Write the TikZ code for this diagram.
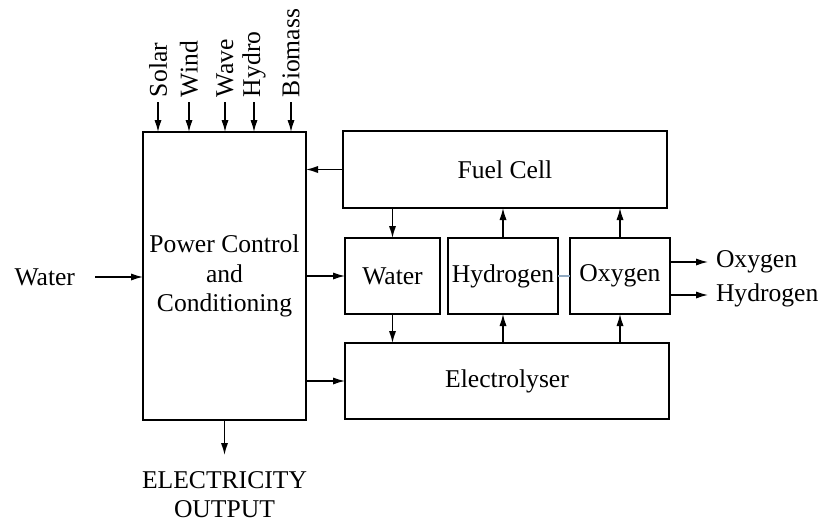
\documentclass[tikz,border=0pt]{standalone}
\usepackage{fontspec}
\setmainfont{Liberation Serif}
\usetikzlibrary{arrows.meta,positioning,calc}
\definecolor{linkblue}{HTML}{8FA8C0}

\begin{document}
\begin{tikzpicture}[x=0.5pt,y=-0.5pt,
  blk/.style={draw,line width=0.75pt,inner sep=0pt,outer sep=0pt,align=center,font=\fontsize{12.8}{14.8}\selectfont},
  lbl/.style={inner sep=0pt,outer sep=0pt,align=center,font=\fontsize{12.8}{14.4}\selectfont},
  arr/.style={-{Latex[length=6pt,width=3.6pt]},line width=0.7pt}]
\useasboundingbox (0,0) rectangle (820,521);
% ---------- blocks ----------
\node[blk,minimum width=81.5pt,minimum height=144pt] (pc) at (224.5,276) {Power Control\\and\\Conditioning};
\node[blk,minimum width=162pt,minimum height=38.5pt] (fc) at (505,169.5) {Fuel Cell};
\node[blk,minimum width=47.5pt,minimum height=38pt] (wt) at (392.5,276) {Water};
\node[blk,minimum width=55pt,minimum height=38pt] (hy) at (503,276) {Hydrogen};
\node[blk,minimum width=50pt,minimum height=38pt] (ox) at (620,276) {Oxygen};
\node[blk,minimum width=162pt,minimum height=38pt] (el) at (507,381) {Electrolyser};
% ---------- sources ----------
\foreach \n/\t/\x in {so/Solar/158,wi/Wind/189,wa/Wave/225,hd/Hydro/254,bm/Biomass/291}{
  \node[lbl,rotate=90,anchor=west,inner xsep=2.5pt] (\n) at (\x,102) {\t};
  \draw[arr] (\n.west) -- (\n.west |- pc.north);
}
\node[lbl,anchor=east,inner xsep=10pt] (win) at (95,277) {Water};
\draw[arr] (win.east) -- (win.east -| pc.west);
% ---------- links ----------
\draw[arr] (fc.west) -- (fc.west -| pc.east);
\draw[arr] (wt.west -| pc.east) -- (wt.west);
\draw[arr] (el.west -| pc.east) -- (el.west);
\draw[arr] (wt.north |- fc.south) -- (wt.north);
\draw[arr] (wt.south) -- (wt.south |- el.north);
\draw[arr] (hy.north) -- (hy.north |- fc.south);
\draw[arr] (hy.south |- el.north) -- (hy.south);
\draw[arr] (ox.north) -- (ox.north |- fc.south);
\draw[arr] (ox.south |- el.north) -- (ox.south);
\draw[linkblue,line width=0.6pt] (hy.east) -- (ox.west);
% ---------- outputs ----------
\node[lbl,anchor=west,inner xsep=4pt] (o2) at (708,262) {Oxygen};
\node[lbl,anchor=west,inner xsep=4pt] (h2) at (708,295) {Hydrogen};
\draw[arr] (o2.west -| ox.east) -- (o2.west);
\draw[arr] (h2.west -| ox.east) -- (h2.west);
\node[lbl,anchor=north,inner ysep=8.5pt] (eo) at (224.5,455) {ELECTRICITY\\OUTPUT};
\draw[arr] (pc.south) -- (eo.north);
\end{tikzpicture}
\end{document}
